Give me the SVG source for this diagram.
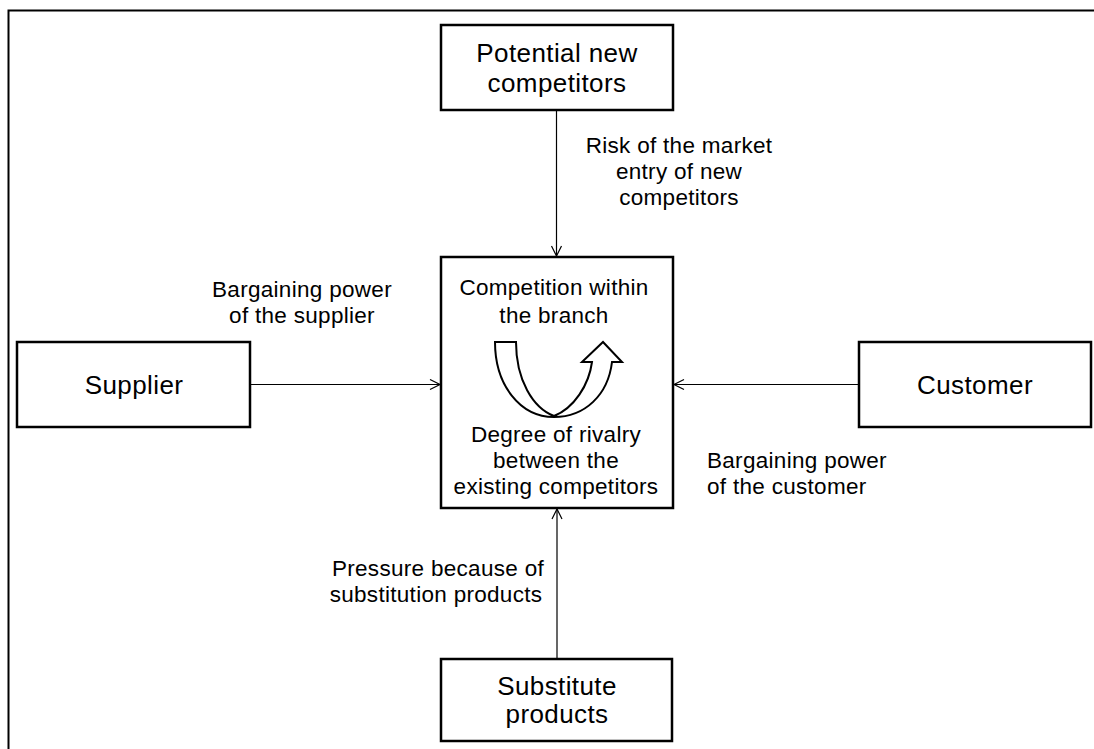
<svg xmlns="http://www.w3.org/2000/svg" width="1094" height="749" viewBox="0 0 1094 749">
  <style>
    .box { fill: #fff; stroke: #000; stroke-width: 2.5; }
    .big { font-family: "Liberation Sans", Arial, sans-serif; font-size: 26px; letter-spacing: 0.4px; fill: #000; text-anchor: middle; }
    .lbl { font-family: "Liberation Sans", Arial, sans-serif; font-size: 22.5px; letter-spacing: 0.3px; fill: #000; text-anchor: middle; }
    .left { text-anchor: start; }
    .conn { stroke: #000; stroke-width: 1.2; fill: none; marker-end: url(#open); }
  </style>
  <defs>
    <marker id="open" markerUnits="userSpaceOnUse" markerWidth="14" markerHeight="14" refX="11" refY="6" orient="auto">
      <path d="M1,1 L11,6 L1,11" fill="none" stroke="#000" stroke-width="1.2"/>
    </marker>
  </defs>

  <rect width="1094" height="749" fill="#fff"/>
  <!-- outer frame -->
  <polyline points="8.5,749 8.5,10.5 1094,10.5" fill="none" stroke="#000" stroke-width="2"/>

  <g id="connectors">
    <line class="conn" x1="556.5" y1="111" x2="556.5" y2="256"/>
    <line class="conn" x1="251" y1="384.5" x2="440" y2="384.5"/>
    <line class="conn" x1="858" y1="384.5" x2="674" y2="384.5"/>
    <line class="conn" x1="557" y1="658" x2="557" y2="509"/>
    <text class="lbl" x="679" y="153">Risk of the market</text>
    <text class="lbl" x="679" y="179">entry of new</text>
    <text class="lbl" x="679" y="205">competitors</text>
    <text class="lbl" x="302" y="297">Bargaining power</text>
    <text class="lbl" x="302" y="323">of the supplier</text>
    <text class="lbl left" x="707" y="468">Bargaining power</text>
    <text class="lbl left" x="707" y="494">of the customer</text>
    <text class="lbl" x="438" y="576">Pressure because of</text>
    <text class="lbl" x="436" y="602">substitution products</text>
  </g>

  <g id="new-competitors">
    <rect class="box" x="441" y="25" width="232" height="85"/>
    <text class="big" x="557" y="62">Potential new</text>
    <text class="big" x="557" y="92">competitors</text>
  </g>

  <g id="supplier">
    <rect class="box" x="17" y="342" width="233" height="85"/>
    <text class="big" x="134" y="394">Supplier</text>
  </g>

  <g id="customer">
    <rect class="box" x="859" y="342" width="232" height="85"/>
    <text class="big" x="975" y="394">Customer</text>
  </g>

  <g id="substitutes">
    <rect class="box" x="441" y="659" width="231" height="82"/>
    <text class="big" x="557" y="695">Substitute</text>
    <text class="big" x="557" y="723">products</text>
  </g>

  <g id="rivalry">
    <rect class="box" x="441" y="257" width="232" height="251"/>
    <text class="lbl" x="554" y="295">Competition within</text>
    <text class="lbl" x="554" y="323">the branch</text>
    <!-- U-turn arrow -->
    <path d="M495,342 L516,342 C516,380 533,408 554,416 C574,408 589,385 592,362 L582,362 L603,342 L622,362 L612,362 C608,395 585,417 554,417 C520,417 495,385 495,342 Z" fill="#fff" stroke="#000" stroke-width="2" stroke-linejoin="miter"/>
    <text class="lbl" x="556" y="442">Degree of rivalry</text>
    <text class="lbl" x="556" y="468">between the</text>
    <text class="lbl" x="556" y="494">existing competitors</text>
  </g>
</svg>
